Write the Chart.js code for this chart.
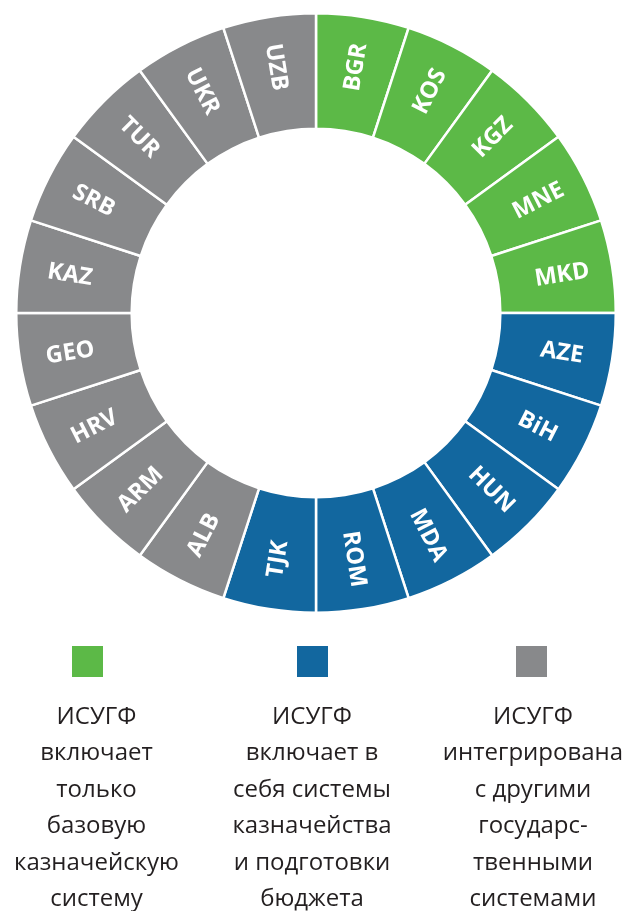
<!DOCTYPE html>
<html>
<head>
<meta charset="utf-8">
<script src="https://cdn.jsdelivr.net/npm/chart.js@4/dist/chart.umd.min.js"></script>
<style>
  html, body { margin: 0; padding: 0; background: #ffffff; }
  #wrap { position: relative; width: 630px; height: 911px; }
</style>
</head>
<body>
<div id="wrap"><canvas id="c"></canvas></div>
<script>
// Countries in clockwise order starting at 12 o'clock
const countries = ["BGR","KOS","KGZ","MNE","MKD","AZE","BiH","HUN","MDA","ROM","TJK","ALB","ARM","HRV","GEO","KAZ","SRB","TUR","UKR","UZB"];
// Group of each country: 0 = basic treasury only, 1 = treasury + budget prep, 2 = integrated
const groups = [0,0,0,0,0,1,1,1,1,1,1,2,2,2,2,2,2,2,2,2];
// Every country takes an equal share of the ring
const shares = [1,1,1,1,1,1,1,1,1,1,1,1,1,1,1,1,1,1,1,1];
// Legend texts (line by line)
const legendTitles = ["ИСУГФ","ИСУГФ","ИСУГФ"];
const legendLines = [
  ["включает","только","базовую","казначейскую","систему"],
  ["включает в","себя системы","казначейства","и подготовки","бюджета"],
  ["интегрирована","с другими","государс-","твенными","системами"]
];
const groupColors = ["#5cb947","#12679f","#88898b"];

const segLabels = {
  id: 'segLabels',
  afterDatasetsDraw(chart) {
    const ctx = chart.ctx;
    const meta = chart.getDatasetMeta(0);
    ctx.save();
    ctx.fillStyle = '#ffffff';
    ctx.font = 'bold 23.5px "Open Sans"';
    ctx.textAlign = 'center';
    ctx.textBaseline = 'middle';
    meta.data.forEach((arc, i) => {
      const p = arc.getProps(['x','y','startAngle','endAngle','innerRadius','outerRadius'], true);
      const a = (p.startAngle + p.endAngle) / 2;
      const r = (p.innerRadius + p.outerRadius) / 2 + 7;
      const x = p.x + Math.cos(a) * r;
      const y = p.y + Math.sin(a) * r;
      let rot = a;
      if (Math.cos(a) < -1e-6) rot = a - Math.PI;
      ctx.save();
      ctx.translate(x, y);
      ctx.rotate(rot);
      ctx.fillText(countries[i], 0, 1);
      ctx.restore();
    });
    ctx.restore();
  }
};

const legendPlugin = {
  id: 'customLegend',
  afterDraw(chart) {
    const ctx = chart.ctx;
    const boxX = [72, 297, 516];
    const textX = [96.5, 312, 533];
    ctx.save();
    for (let g = 0; g < 3; g++) {
      ctx.fillStyle = groupColors[g];
      ctx.fillRect(boxX[g], 646, 31, 31);
      ctx.fillStyle = '#231f20';
      ctx.font = '24px "Open Sans"';
      ctx.textAlign = 'center';
      ctx.textBaseline = 'alphabetic';
      const lines = [legendTitles[g]].concat(legendLines[g]);
      lines.forEach((t, k) => {
        ctx.fillText(t, textX[g], 724 + k * 36.4);
      });
    }
    ctx.restore();
  }
};

new Chart(document.getElementById('c'), {
  type: 'doughnut',
  data: {
    labels: countries,
    datasets: [{
      data: shares,
      backgroundColor: groups.map(g => groupColors[g]),
      borderColor: '#ffffff',
      borderWidth: 2.5,
      hoverOffset: 0
    }]
  },
  options: {
    responsive: true,
    maintainAspectRatio: false,
    animation: false,
    cutout: '61.5%',
    layout: { padding: { left: 15, right: 13, top: 12, bottom: 297 } },
    plugins: { legend: { display: false }, tooltip: { enabled: false } },
    events: []
  },
  plugins: [segLabels, legendPlugin]
});
</script>
</body>
</html>
